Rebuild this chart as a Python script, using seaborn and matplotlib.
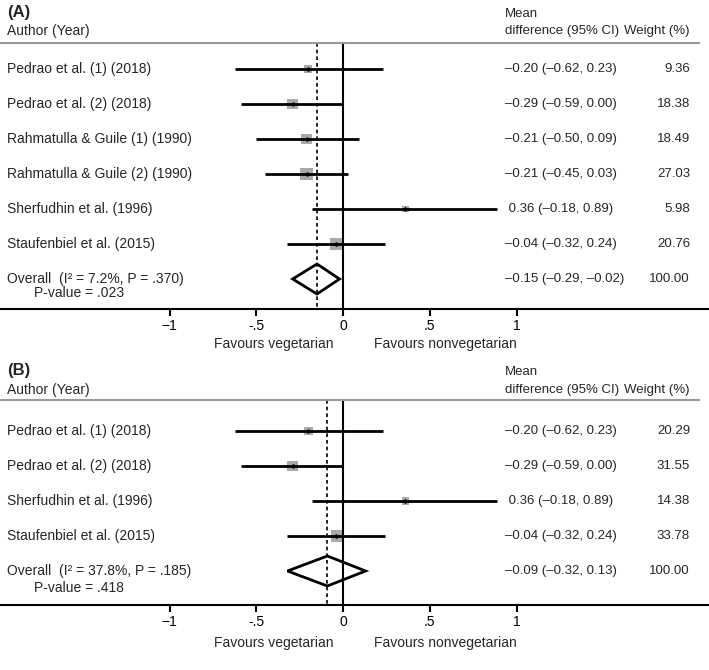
import numpy as np
import pandas as pd
import matplotlib
matplotlib.use("Agg")
import matplotlib.pyplot as plt
import seaborn as sns

sns.set_style("white")
plt.rcParams['font.family'] = ['Liberation Sans', 'DejaVu Sans']

# Panel A: all studies
a_studies = ['Pedrao et al. (1) (2018)', 'Pedrao et al. (2) (2018)',
             'Rahmatulla & Guile (1) (1990)', 'Rahmatulla & Guile (2) (1990)',
             'Sherfudhin et al. (1996)', 'Staufenbiel et al. (2015)']
a_est = [-0.20, -0.29, -0.21, -0.21, 0.36, -0.04]
a_lo = [-0.62, -0.59, -0.50, -0.45, -0.18, -0.32]
a_hi = [0.23, 0.00, 0.09, 0.03, 0.89, 0.24]
a_weight = [9.36, 18.38, 18.49, 27.03, 5.98, 20.76]
a_overall = [-0.15, -0.29, -0.02]
a_i2, a_phet, a_pval = '7.2%', '.370', '.023'

# Panel B: subset
b_studies = ['Pedrao et al. (1) (2018)', 'Pedrao et al. (2) (2018)',
             'Sherfudhin et al. (1996)', 'Staufenbiel et al. (2015)']
b_est = [-0.20, -0.29, 0.36, -0.04]
b_lo = [-0.62, -0.59, -0.18, -0.32]
b_hi = [0.23, 0.00, 0.89, 0.24]
b_weight = [20.29, 31.55, 14.38, 33.78]
b_overall = [-0.09, -0.32, 0.13]
b_i2, b_phet, b_pval = '37.8%', '.185', '.418'

tick_vals = [-1, -0.5, 0, 0.5, 1]
tick_labels = ['\u22121', '-.5', '0', '.5', '1']

# layout (pixels)
W, H = 709, 670
ZERO_PX, UNIT_PX, ROW_PX = 343, 173.5, 35
FS, FS_R = 10, 9.5


def xd(px):
    return (px - ZERO_PX) / UNIT_PX


def fmt(v):
    s = f"{abs(v):.2f}"
    return '\u2013' + s if v < 0 else ' ' + s


def ci_text(e, l, h):
    return f"{fmt(e)} ({fmt(l).strip()}, {fmt(h).strip()})"


def draw_panel(ax, tag, studies, est, lo, hi, weight, overall, i2, phet, pval,
               row0_px, top_px, axis_px, box_scale, offs):
    def yd(px):
        return (px - row0_px) / ROW_PX

    n = len(studies)
    rows = np.arange(n)
    ax.set_xlim(xd(0), xd(W))
    ax.set_ylim(yd(axis_px), yd(top_px))

    df = pd.DataFrame({'study': studies, 'est': est, 'lo': lo, 'hi': hi,
                       'weight': weight, 'row': rows})
    header = yd(row0_px - offs['line'])
    bottom = yd(axis_px)

    # reference lines
    ax.vlines(0, header, bottom, color='black', lw=1.5, zorder=1)
    ax.vlines(overall[0], header, bottom, color='black', lw=1.2,
              linestyles=(0, (2.2, 1.8)), zorder=1)
    ax.hlines(header, xd(0), xd(700), color='#9a9a9a', lw=1.5)

    # weight boxes, CIs, point estimates
    sizes = (box_scale * np.sqrt(df['weight']) * 0.72) ** 2
    sns.scatterplot(data=df, x='est', y='row', marker='s', s=sizes,
                    color='#a9a9a9', edgecolor='none', legend=False, ax=ax, zorder=2)
    ax.hlines(df['row'], df['lo'], df['hi'], color='black', lw=2, zorder=3)
    sns.scatterplot(data=df, x='est', y='row', marker='D', s=6,
                    color='black', edgecolor='black', legend=False, ax=ax, zorder=4)

    # overall diamond
    orow = n
    e, l, h = overall
    dh = 15 / ROW_PX
    ax.fill([l, e, h, e, l], [orow, orow - dh, orow, orow + dh, orow],
            fill=False, edgecolor='black', lw=2, joinstyle='miter', zorder=3)

    tx_lab, tx_ci, tx_w = xd(7), xd(505), xd(690)
    for r, s, ee, ll, hh, w in zip(rows, studies, est, lo, hi, weight):
        ax.text(tx_lab, r, s, fontsize=FS, va='center', ha='left')
        ax.text(tx_ci, r, ci_text(ee, ll, hh), fontsize=FS_R, va='center', ha='left')
        ax.text(tx_w, r, f"{w:.2f}", fontsize=FS_R, va='center', ha='right')
    ax.text(tx_lab, orow, f"Overall  (I\u00b2 = {i2}, P = {phet})",
            fontsize=FS, va='center', ha='left')
    ax.text(xd(34), yd(row0_px + ROW_PX * n + offs['pv']), f"P-value = {pval}",
            fontsize=FS, va='center', ha='left')
    ax.text(tx_ci, orow, ci_text(*overall), fontsize=FS_R, va='center', ha='left')
    ax.text(tx_w, orow, "100.00", fontsize=FS_R, va='center', ha='right')

    # headers
    ax.text(xd(7), yd(row0_px - offs['tag']), tag, fontsize=12,
            fontweight='bold', va='center', ha='left', clip_on=False)
    ax.text(xd(7), yd(row0_px - offs['author']), 'Author (Year)', fontsize=FS,
            va='center', ha='left')
    ax.text(tx_ci, yd(row0_px - offs['tag'] + 2), 'Mean', fontsize=FS_R,
            va='center', ha='left')
    ax.text(tx_ci, yd(row0_px - offs['author']), 'difference (95% CI)',
            fontsize=FS_R, va='center', ha='left')
    ax.text(tx_w, yd(row0_px - offs['author']), 'Weight (%)', fontsize=FS_R,
            va='center', ha='right')

    # favours labels below the axis
    ax.text(xd(334), yd(axis_px + offs['fav']), 'Favours vegetarian', fontsize=FS,
            va='center', ha='right', clip_on=False)
    ax.text(xd(374), yd(axis_px + offs['fav']), 'Favours nonvegetarian', fontsize=FS,
            va='center', ha='left', clip_on=False)

    # x axis
    for side in ['top', 'left', 'right']:
        ax.spines[side].set_visible(False)
    ax.spines['bottom'].set_linewidth(1.5)
    ax.spines['bottom'].set_color('black')
    ax.set_xticks(tick_vals, tick_labels)
    ax.set_yticks([])
    ax.tick_params(axis='x', bottom=True, direction='out', length=5, width=1.5,
                   pad=2.5, labelsize=FS, colors='black')
    ax.set_xlabel('')
    ax.set_ylabel('')
    ax.patch.set_alpha(0)


fig = plt.figure(figsize=(W / 100, H / 100), dpi=100)
fig.patch.set_facecolor('white')

# panel A: axes from top of figure to its axis line
a_top, a_axis = 0, 309
ax_a = fig.add_axes([0, 1 - a_axis / H, 1, (a_axis - a_top) / H])
draw_panel(ax_a, '(A)', a_studies, a_est, a_lo, a_hi, a_weight, a_overall,
           a_i2, a_phet, a_pval, row0_px=69, top_px=a_top, axis_px=a_axis,
           box_scale=2.5, offs={'line': 26, 'tag': 57, 'author': 38, 'pv': 14, 'fav': 35})

b_top, b_axis = 355, 605
ax_b = fig.add_axes([0, 1 - b_axis / H, 1, (b_axis - b_top) / H])
draw_panel(ax_b, '(B)', b_studies, b_est, b_lo, b_hi, b_weight, b_overall,
           b_i2, b_phet, b_pval, row0_px=431, top_px=b_top, axis_px=b_axis,
           box_scale=1.9, offs={'line': 31, 'tag': 61, 'author': 41, 'pv': 17, 'fav': 38})

fig.savefig('out.png', dpi=100, facecolor='white')
